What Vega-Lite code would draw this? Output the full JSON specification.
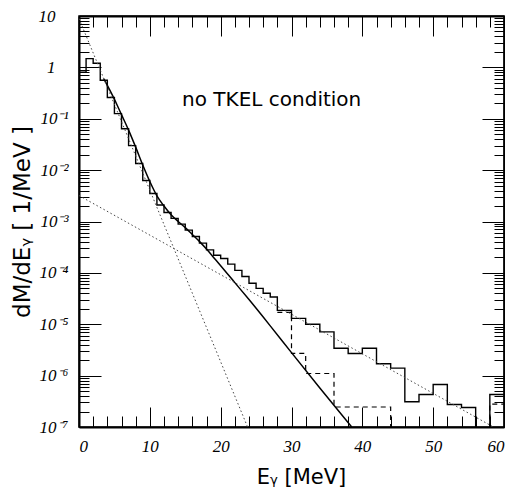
{
  "$schema": "https://vega.github.io/schema/vega-lite/v6.json",
  "width": 425,
  "height": 411,
  "autosize": {"type": "none"},
  "padding": {"left": 79, "top": 16, "right": 1, "bottom": 60},
  "background": "white",
  "config": {
    "view": {"stroke": "black", "strokeWidth": 1.5},
    "axis": {
      "domainColor": "black", "domainWidth": 2, "tickColor": "black", "tickWidth": 1,
      "grid": false, "labelColor": "black", "titleColor": "black",
      "labelFont": "Liberation Serif", "labelFontStyle": "italic", "labelFontSize": 17,
      "titleFont": "DejaVu Sans", "titleFontWeight": "normal", "labelOverlap": false
    }
  },
  "datasets": {
    "hist": [
      {"E": 0, "v": 0.81}, {"E": 1, "v": 1.48}, {"E": 2, "v": 1.2}, {"E": 3, "v": 0.56},
      {"E": 4, "v": 0.26}, {"E": 5, "v": 0.126}, {"E": 6, "v": 0.064}, {"E": 7, "v": 0.030},
      {"E": 8, "v": 0.0135}, {"E": 9, "v": 0.0063}, {"E": 10, "v": 0.0035}, {"E": 11, "v": 0.0021},
      {"E": 12, "v": 0.0015}, {"E": 13, "v": 0.00115}, {"E": 14, "v": 0.00089}, {"E": 15, "v": 0.00068},
      {"E": 16, "v": 0.00051}, {"E": 17, "v": 0.00038}, {"E": 18, "v": 0.00028}, {"E": 19, "v": 0.00022},
      {"E": 20, "v": 0.00019}, {"E": 21, "v": 0.000148}, {"E": 22, "v": 0.000112}, {"E": 23, "v": 0.000085},
      {"E": 24, "v": 0.000063}, {"E": 25, "v": 0.00005}, {"E": 26, "v": 0.00004}, {"E": 27, "v": 0.000034},
      {"E": 28, "v": 0.0000186}, {"E": 30, "v": 0.000013}, {"E": 32, "v": 0.00001}, {"E": 34, "v": 0.0000071},
      {"E": 36, "v": 0.0000034}, {"E": 38, "v": 0.0000027}, {"E": 40, "v": 0.0000034}, {"E": 42, "v": 0.0000017},
      {"E": 44, "v": 0.0000014}, {"E": 46, "v": 0.00000031}, {"E": 48, "v": 0.00000043}, {"E": 50, "v": 0.00000067},
      {"E": 52, "v": 0.000000275}, {"E": 54, "v": 0.00000024}, {"E": 56, "v": 0.000000001}, {"E": 58, "v": 0.00000043},
      {"E": 60, "v": 0.00000043}
    ],
    "dash": [
      {"E": 28, "v": 0.000017}, {"E": 30, "v": 0.0000027}, {"E": 32, "v": 0.0000011},
      {"E": 36, "v": 0.000000245}, {"E": 44, "v": 0.000000001}, {"E": 58, "v": 0.00000028},
      {"E": 60, "v": 0.00000028}
    ],
    "fit": [
      {"E": 3.5, "v": 0.6}, {"E": 5, "v": 0.24}, {"E": 6, "v": 0.12}, {"E": 7, "v": 0.060},
      {"E": 8, "v": 0.028}, {"E": 9, "v": 0.0126}, {"E": 10, "v": 0.006}, {"E": 11, "v": 0.00316},
      {"E": 12, "v": 0.002}, {"E": 13, "v": 0.00135}, {"E": 14, "v": 0.001}, {"E": 15, "v": 0.00076},
      {"E": 16, "v": 0.00056}, {"E": 17, "v": 0.00041}, {"E": 18, "v": 0.00029}, {"E": 19, "v": 0.0002},
      {"E": 20, "v": 0.000138}, {"E": 22, "v": 0.0000646}, {"E": 24, "v": 0.0000302}, {"E": 27, "v": 0.0000093},
      {"E": 30, "v": 0.0000028}, {"E": 34, "v": 0.000000575}, {"E": 38.5, "v": 0.0000001}
    ],
    "steep": [{"E": 0, "v": 8.9}, {"E": 23.8, "v": 0.0000001}],
    "flat": [{"E": 0, "v": 0.0032}, {"E": 58.5, "v": 0.0000001}],
    "note": [{"E": 27.2, "v": 0.18, "t": "no TKEL condition"}]
  },
  "layer": [
    {
      "data": {"name": "hist"},
      "mark": {"type": "line", "interpolate": "step-after", "color": "black", "strokeWidth": 1.4, "clip": true},
      "encoding": {
        "x": {"field": "E", "type": "quantitative",
          "scale": {"domain": [0, 60], "nice": false, "zero": false},
          "axis": {"orient": "bottom", "values": [0,2,4,6,8,10,12,14,16,18,20,22,24,26,28,30,32,34,36,38,40,42,44,46,48,50,52,54,56,58,60],
            "labelExpr": "datum.value % 10 == 0 ? datum.label : ''",
            "tickSize": {"condition": {"test": "datum.value % 10 == 0", "value": -20}, "value": -11},
            "labelPadding": 31, "title": "Eᵧ [MeV]", "titleFontSize": 21, "titlePadding": 3, "titleX": 222, "titleAlign": "center"}},
        "y": {"field": "v", "type": "quantitative",
          "scale": {"type": "log", "domain": [0.0000001, 10], "nice": false},
          "axis": {"orient": "left",
            "values": [0.0000001,0.0000002,0.0000003,0.0000004,0.0000005,0.0000006,0.0000007,0.0000008,0.0000009,
              0.000001,0.000002,0.000003,0.000004,0.000005,0.000006,0.000007,0.000008,0.000009,
              0.00001,0.00002,0.00003,0.00004,0.00005,0.00006,0.00007,0.00008,0.00009,
              0.0001,0.0002,0.0003,0.0004,0.0005,0.0006,0.0007,0.0008,0.0009,
              0.001,0.002,0.003,0.004,0.005,0.006,0.007,0.008,0.009,
              0.01,0.02,0.03,0.04,0.05,0.06,0.07,0.08,0.09,
              0.1,0.2,0.3,0.4,0.5,0.6,0.7,0.8,0.9,
              1,2,3,4,5,6,7,8,9,10],
            "labelExpr": "abs(log(datum.value)/LN10 - round(log(datum.value)/LN10)) > 0.01 ? '' : datum.value > 5 ? '10' : datum.value > 0.5 ? '1' : '10' + ['', '⁻¹','⁻²','⁻³','⁻⁴','⁻⁵','⁻⁶','⁻⁷'][round(-log(datum.value)/LN10)]",
            "tickSize": {"condition": {"test": "abs(log(datum.value)/LN10 - round(log(datum.value)/LN10)) < 0.01", "value": -22}, "value": -10},
            "labelPadding": {"condition": {"test": "datum.value > 0.5", "value": 46}, "value": 33},
            "labelBaseline": "middle",
            "title": "dM/dEᵧ [ 1/MeV ]", "titleFontSize": 23, "titlePadding": 4}}
      }
    },
    {
      "data": {"name": "dash"},
      "mark": {"type": "line", "interpolate": "step-after", "color": "black", "strokeWidth": 1.2, "strokeDash": [5, 4], "clip": true},
      "encoding": {
        "x": {"field": "E", "type": "quantitative",
          "scale": {"domain": [0, 60], "nice": false, "zero": false},
          "axis": {"orient": "top", "values": [0,2,4,6,8,10,12,14,16,18,20,22,24,26,28,30,32,34,36,38,40,42,44,46,48,50,52,54,56,58,60],
            "labels": false, "title": null,
            "tickSize": {"condition": {"test": "datum.value % 10 == 0", "value": -20}, "value": -11}}},
        "y": {"field": "v", "type": "quantitative",
          "scale": {"type": "log", "domain": [0.0000001, 10], "nice": false},
          "axis": {"orient": "right", "labels": false, "title": null,
            "values": [0.0000001,0.0000002,0.0000003,0.0000004,0.0000005,0.0000006,0.0000007,0.0000008,0.0000009,
              0.000001,0.000002,0.000003,0.000004,0.000005,0.000006,0.000007,0.000008,0.000009,
              0.00001,0.00002,0.00003,0.00004,0.00005,0.00006,0.00007,0.00008,0.00009,
              0.0001,0.0002,0.0003,0.0004,0.0005,0.0006,0.0007,0.0008,0.0009,
              0.001,0.002,0.003,0.004,0.005,0.006,0.007,0.008,0.009,
              0.01,0.02,0.03,0.04,0.05,0.06,0.07,0.08,0.09,
              0.1,0.2,0.3,0.4,0.5,0.6,0.7,0.8,0.9,
              1,2,3,4,5,6,7,8,9,10],
            "tickSize": {"condition": {"test": "abs(log(datum.value)/LN10 - round(log(datum.value)/LN10)) < 0.01", "value": -22}, "value": -10}}}
      }
    },
    {
      "data": {"name": "fit"},
      "mark": {"type": "line", "interpolate": "monotone", "color": "black", "strokeWidth": 1.5, "clip": true},
      "encoding": {
        "x": {"field": "E", "type": "quantitative", "scale": {"domain": [0, 60], "nice": false, "zero": false}, "axis": null},
        "y": {"field": "v", "type": "quantitative", "scale": {"type": "log", "domain": [0.0000001, 10], "nice": false}, "axis": null}
      }
    },
    {
      "data": {"name": "steep"},
      "mark": {"type": "line", "color": "#444", "strokeWidth": 1, "strokeDash": [1.5, 2.5], "clip": true},
      "encoding": {
        "x": {"field": "E", "type": "quantitative", "scale": {"domain": [0, 60], "nice": false, "zero": false}, "axis": null},
        "y": {"field": "v", "type": "quantitative", "scale": {"type": "log", "domain": [0.0000001, 10], "nice": false}, "axis": null}
      }
    },
    {
      "data": {"name": "flat"},
      "mark": {"type": "line", "color": "#444", "strokeWidth": 1, "strokeDash": [1.5, 2.5], "clip": true},
      "encoding": {
        "x": {"field": "E", "type": "quantitative", "scale": {"domain": [0, 60], "nice": false, "zero": false}, "axis": null},
        "y": {"field": "v", "type": "quantitative", "scale": {"type": "log", "domain": [0.0000001, 10], "nice": false}, "axis": null}
      }
    },
    {
      "data": {"name": "note"},
      "mark": {"type": "text", "font": "DejaVu Sans", "fontSize": 20, "align": "center", "baseline": "alphabetic", "color": "black"},
      "encoding": {
        "x": {"field": "E", "type": "quantitative", "scale": {"domain": [0, 60], "nice": false, "zero": false}, "axis": null},
        "y": {"field": "v", "type": "quantitative", "scale": {"type": "log", "domain": [0.0000001, 10], "nice": false}, "axis": null},
        "text": {"field": "t"}
      }
    }
  ],
  "resolve": {"axis": {"x": "independent", "y": "independent"}}
}
